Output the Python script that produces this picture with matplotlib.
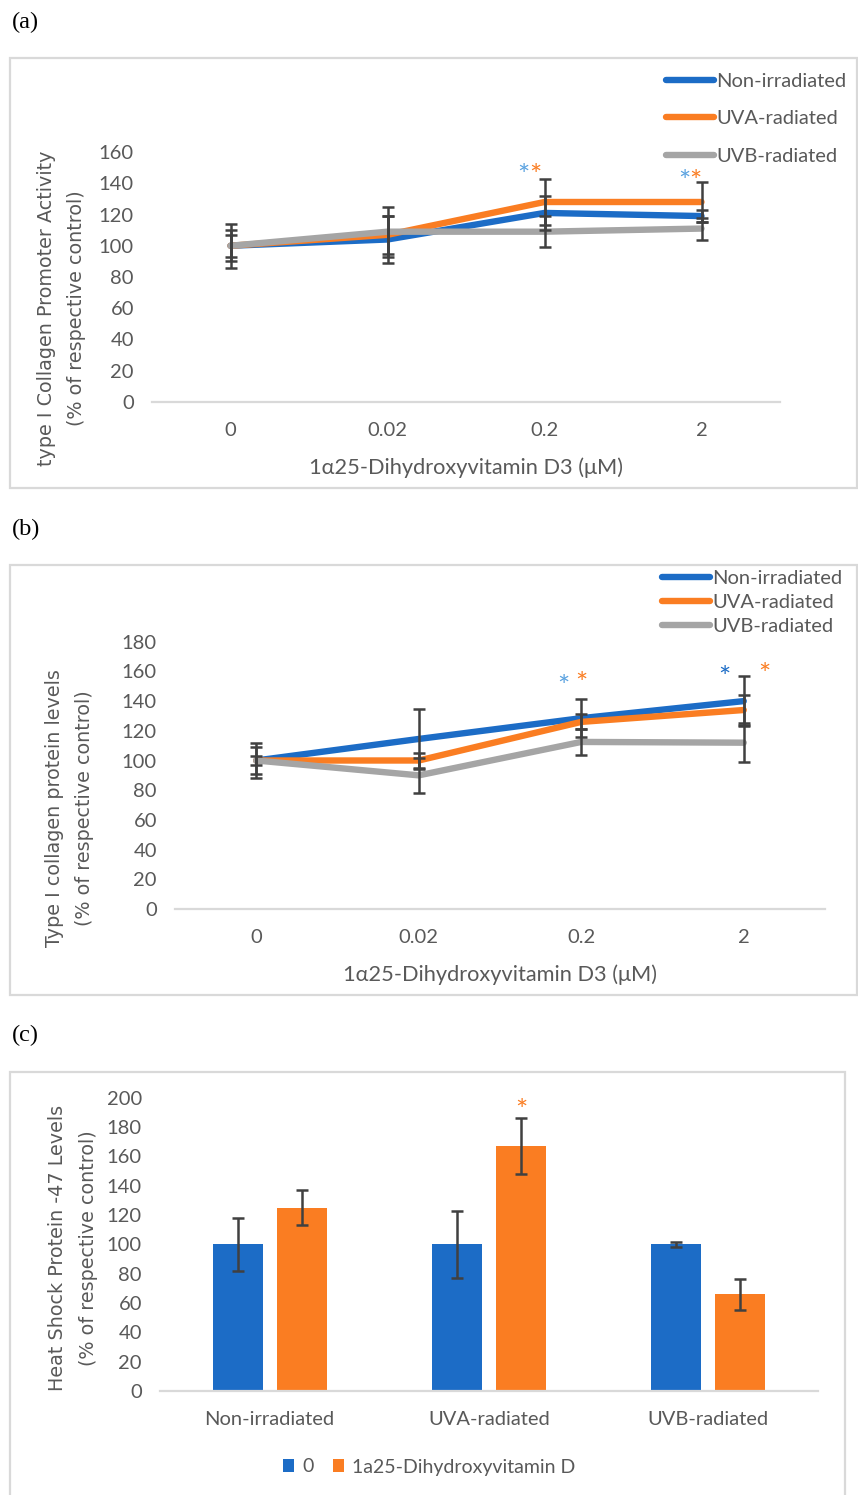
import numpy as np
import matplotlib.pyplot as plt
from matplotlib.patches import Rectangle
from matplotlib.lines import Line2D

plt.rcParams['font.family'] = ['Lato', 'DejaVu Sans']

# ---------------- data ----------------
doses = ['0', '0.02', '0.2', '2']
groups = ['Non-irradiated', 'UVA-radiated', 'UVB-radiated']

# (a) type I collagen promoter activity, % of control
promoter_non = [100, 104, 121, 119]
promoter_uva = [100, 107, 128, 128]
promoter_uvb = [100, 109, 109, 111]
promoter_non_err = [10, 15, 11, 4]
promoter_uva_err = [7, 12, 15, 13]
promoter_uvb_err = [14, 16, 10, 7]

# (b) type I collagen protein levels, % of control
protein_non = [100, 114.5, 128.5, 140]
protein_uva = [100, 100, 126, 134]
protein_uvb = [100, 90, 112.5, 112]
protein_non_err = [12, 20, 13, 17]
protein_uva_err = [9, 5, 5, 10]
protein_uvb_err = [3, 12, 8.5, 13]

# (c) HSP47 levels, % of control
hsp_control = [100, 100, 100]
hsp_vitd = [125, 167, 66]
hsp_control_err = [18, 23, 1.5]
hsp_vitd_err = [12, 19, 10.5]

BLUE = '#1C6CC6'
ORANGE = '#FA7D22'
GRAY = '#A5A5A5'
LIGHTBLUE = '#5AA2E0'
ERR = '#404040'
TXT = '#595959'
BORDER = '#D9D9D9'

W, H = 858, 1495
fig = plt.figure(figsize=(W / 100, H / 100), dpi=100)


def px_axes(l, t, r, b):
    return fig.add_axes([l / W, 1 - b / H, (r - l) / W, (b - t) / H])


def frame(l, t, r, b):
    fig.patches.append(Rectangle((l / W, 1 - b / H), (r - l) / W, (b - t) / H,
                                 transform=fig.transFigure, fill=False,
                                 edgecolor=BORDER, linewidth=1.6))


def style(ax):
    for s in ['top', 'right', 'left']:
        ax.spines[s].set_visible(False)
    ax.spines['bottom'].set_color(BORDER)
    ax.spines['bottom'].set_linewidth(1.6)
    ax.tick_params(length=0, labelsize=14.5, labelcolor=TXT)
    ax.tick_params(axis='y', pad=13)
    ax.tick_params(axis='x', pad=14.5)
    ax.set_facecolor('none')


def ylabel2(x1, x2, yc, line1, line2):
    fig.text(x1 / W, 1 - yc / H, line1, rotation=90, ha='center', va='center',
             fontsize=13.8, color=TXT, family='DejaVu Sans')
    fig.text(x2 / W, 1 - yc / H, line2, rotation=90, ha='center', va='center',
             fontsize=13.8, color=TXT, family='DejaVu Sans')


def line_panel(ax, series, errs, ymax):
    x = np.arange(len(doses))
    colors = [BLUE, ORANGE, GRAY]
    for vals, col in zip(series, colors):
        ax.plot(x, vals, color=col, lw=4.6, solid_capstyle='round', zorder=2)
    for vals, e in zip(series, errs):
        ax.errorbar(x, vals, yerr=e, fmt='none', ecolor=ERR, elinewidth=1.8,
                    capsize=4.5, capthick=1.8, zorder=3, clip_on=False)
    ax.set_xlim(-0.5, len(doses) - 0.5)
    ax.set_ylim(0, ymax)
    ax.set_yticks(np.arange(0, ymax + 1, 20))
    ax.set_xticks(x)
    ax.set_xticklabels(doses)
    ax.set_xlabel('1\u03b125-Dihydroxyvitamin D3 (\u03bcM)', fontsize=15.7, color=TXT, labelpad=13)
    style(ax)


def star(ax, x, y, color, size=21):
    ax.text(x, y, '*', color=color, fontsize=size, ha='center', va='center',
            clip_on=False)


# ---------------- (a) ----------------
fig.text(12 / W, 1 - 22 / H, '(a)', family='Liberation Serif', fontsize=17.5,
         ha='left', va='center')
frame(10, 58, 857, 488)
ax1 = px_axes(152, 152, 780, 402)
line_panel(ax1, [promoter_non, promoter_uva, promoter_uvb],
           [promoter_non_err, promoter_uva_err, promoter_uvb_err], 160)
ylabel2(47, 77, 308, 'type I Collagen Promoter Activity', '(% of respective control)')
star(ax1, 2 - 0.135, 144, LIGHTBLUE)
star(ax1, 2 - 0.06, 144, ORANGE)
star(ax1, 3 - 0.11, 140, LIGHTBLUE)
star(ax1, 3 - 0.04, 140, ORANGE)

handles = [Line2D([], [], color=c, lw=4.6, solid_capstyle='round') for c in [BLUE, ORANGE, GRAY]]
fig.legend(handles, groups, loc='upper left', bbox_to_anchor=(666 / W, 1 - 73 / H),
           frameon=False, fontsize=14.5, labelcolor=TXT, handlelength=2.4,
           handletextpad=0.1, labelspacing=1.0, borderaxespad=0, borderpad=0)

# ---------------- (b) ----------------
fig.text(12 / W, 1 - 529 / H, '(b)', family='Liberation Serif', fontsize=17.5,
         ha='left', va='center')
frame(10, 565, 857, 995)
ax2 = px_axes(175, 641.7, 825, 909)
line_panel(ax2, [protein_non, protein_uva, protein_uvb],
           [protein_non_err, protein_uva_err, protein_uvb_err], 180)
ylabel2(55, 85, 808, 'Type I collagen protein levels', '(% of respective control)')
star(ax2, 2 - 0.11, 149, LIGHTBLUE)
star(ax2, 2 + 0.0, 151, ORANGE)
star(ax2, 3 - 0.12, 155, BLUE)
star(ax2, 3 + 0.13, 157, ORANGE)

fig.legend(handles, groups, loc='upper left', bbox_to_anchor=(662 / W, 1 - 570 / H),
           frameon=False, fontsize=14.5, labelcolor=TXT, handlelength=2.4,
           handletextpad=0.1, labelspacing=0.35, borderaxespad=0, borderpad=0)

# ---------------- (c) ----------------
fig.text(12 / W, 1 - 1035 / H, '(c)', family='Liberation Serif', fontsize=17.5,
         ha='left', va='center')
frame(10, 1072, 845, 1510)
ax3 = px_axes(160, 1097.7, 818, 1391)
xc = np.arange(len(groups))
bw = 0.228
off = 0.146
ax3.bar(xc - off, hsp_control, bw, color=BLUE, label='0', zorder=2)
ax3.bar(xc + off, hsp_vitd, bw, color=ORANGE, label='1a25-Dihydroxyvitamin D', zorder=2)
ax3.errorbar(xc - off, hsp_control, yerr=hsp_control_err, fmt='none', ecolor=ERR,
             elinewidth=1.8, capsize=4.5, capthick=1.8, zorder=3)
ax3.errorbar(xc + off, hsp_vitd, yerr=hsp_vitd_err, fmt='none', ecolor=ERR,
             elinewidth=1.8, capsize=4.5, capthick=1.8, zorder=3)
ax3.set_xlim(-0.5, len(groups) - 0.5)
ax3.set_ylim(0, 200)
ax3.set_yticks(np.arange(0, 201, 20))
ax3.set_xticks(xc)
ax3.set_xticklabels(groups)
style(ax3)
ylabel2(58, 88, 1248, 'Heat Shock Protein -47 Levels', '(% of respective control)')
star(ax3, 1 + off, 190, ORANGE)

fig.legend(*ax3.get_legend_handles_labels(), loc='center',
           bbox_to_anchor=(429 / W, 1 - 1467 / H), ncol=2, frameon=False,
           fontsize=14, labelcolor=TXT, handlelength=0.6, handleheight=0.6,
           handletextpad=0.4, columnspacing=1.0)

fig.savefig('out.png', dpi=100)
